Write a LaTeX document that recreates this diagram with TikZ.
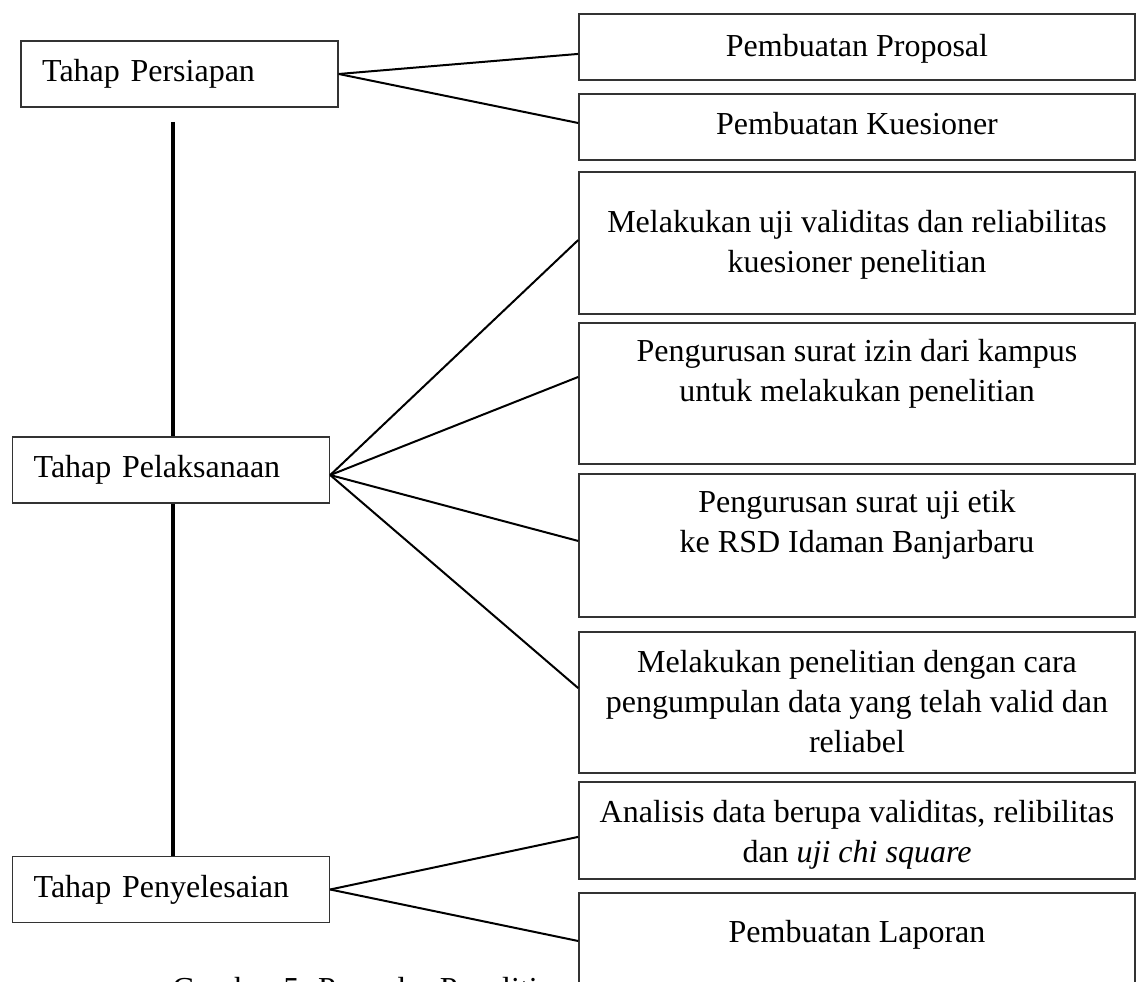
\documentclass[tikz,border=0pt]{standalone}
\usepackage{fontspec}
\setmainfont{Liberation Serif}
\usetikzlibrary{positioning}
\definecolor{BoxClr}{rgb}{0.2,0.2,0.2}
\definecolor{LinkClr}{rgb}{0,0,0}
\newcommand{\BoxText}[3]{\parbox[c][#1][t]{200pt}{\centering\vspace*{#2}\strut #3}}

\begin{document}
\begin{tikzpicture}[x=0.375pt,y=-0.375pt,
  font=\fontsize{12}{15}\selectfont,
  Stage/.style={draw=BoxClr,line width=0.6pt,rectangle,text width=103pt,align=left,
    inner xsep=7.9pt,minimum height=24.75pt},
  Task/.style={draw=BoxClr,line width=0.6pt,rectangle,inner sep=0pt,minimum width=208.5pt},
  Link/.style={draw=LinkClr,line width=0.75pt},
  Spine/.style={draw=LinkClr,line width=1.5pt}]
\useasboundingbox (0,0) rectangle (1142,982);
\clip (0,0) rectangle (1142,982);

% tahapan
\node[Stage] (A) at (179.5,74) {Tahap Persiapan};
\node[Stage] (B) at (171,470) {Tahap Pelaksanaan};
\node[Stage] (C) at (171,889.5) {Tahap Penyelesaian};

% kegiatan
\node[Task] (P1) at (857,47) {\BoxText{24.75pt}{5.5pt}{Pembuatan Proposal}};
\node[Task] (P2) at (857,127) {\BoxText{24.75pt}{4.7pt}{Pembuatan Kuesioner}};
\node[Task] (P3) at (857,243) {\BoxText{53.25pt}{12.2pt}{Melakukan uji validitas dan reliabilitas\\ kuesioner penelitian}};
\node[Task] (P4) at (857,393.5) {\BoxText{52.9pt}{4pt}{Pengurusan surat izin dari kampus\\ untuk melakukan penelitian}};
\node[Task] (P5) at (857,545.5) {\BoxText{53.6pt}{4pt}{Pengurusan surat uji etik\\ ke RSD Idaman Banjarbaru}};
\node[Task] (P6) at (857,702.5) {\BoxText{52.9pt}{4.7pt}{Melakukan penelitian dengan cara\\ pengumpulan data yang telah valid dan\\ reliabel}};
\node[Task] (P7) at (857,830.5) {\BoxText{36.4pt}{4.7pt}{Analisis data berupa validitas, relibilitas\\ dan \textit{uji chi square}}};
\node[Task] (P8) at (857,943) {\BoxText{37.5pt}{8.1pt}{Pembuatan Laporan}};

% garis tengah
\coordinate (S) at (173,122);
\draw[Spine] (S) -- (S |- B.north);
\draw[Spine] (S |- B.south) -- (S |- C.north);

% penghubung
\draw[Link] (A.east) -- ([yshift=-2.6pt]P1.west);
\draw[Link] (A.east) -- ([yshift=1.5pt]P2.west);
\draw[Link] ([yshift=-1.9pt]B.east) -- ([yshift=1.1pt]P3.west);
\draw[Link] ([yshift=-1.9pt]B.east) -- ([yshift=6.2pt]P4.west);
\draw[Link] ([yshift=-1.9pt]B.east) -- ([yshift=1.7pt]P5.west);
\draw[Link] ([yshift=-1.9pt]B.east) -- ([yshift=5.4pt]P6.west);
\draw[Link] (C.east) -- ([yshift=-2.4pt]P7.west);
\draw[Link] (C.east) -- ([yshift=0.75pt]P8.west);

\node[anchor=base west] (G) at (163,999) {Gambar 5. Prosedur Penelitian};
\end{tikzpicture}
\end{document}
